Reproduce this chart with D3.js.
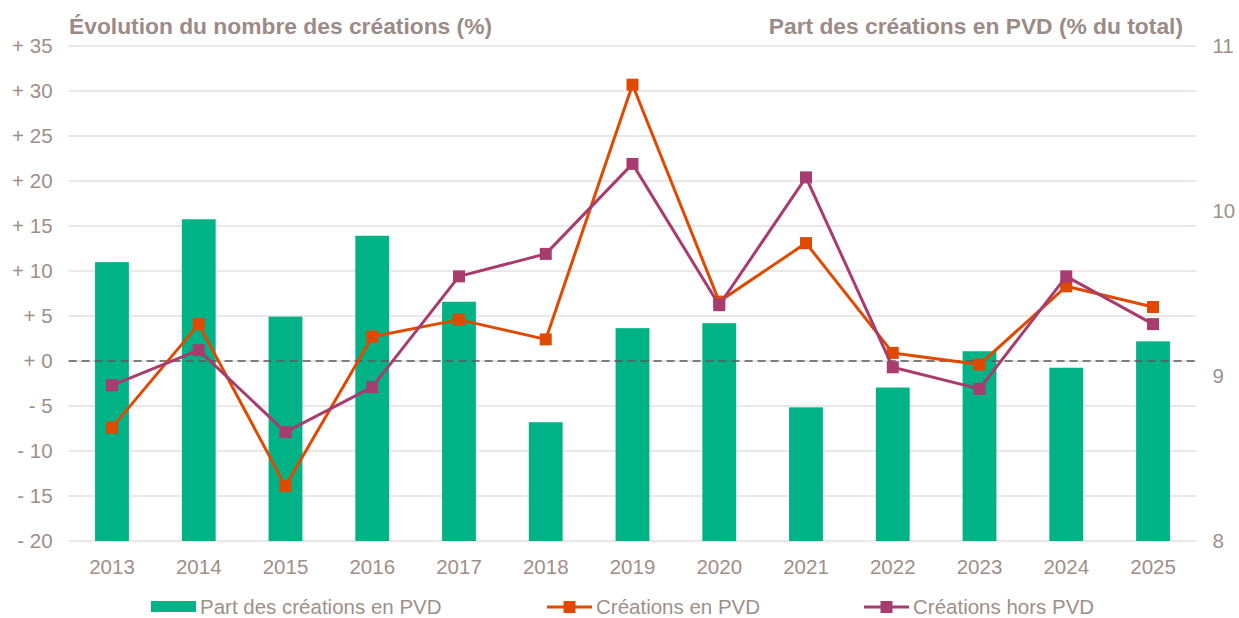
<!DOCTYPE html>
<html lang="fr">
<head>
<meta charset="utf-8">
<title>Créations en PVD</title>
<script src="https://d3js.org/d3.v7.min.js"></script>
<style>
  body { margin: 0; background: #fff; font-family: 'Liberation Sans', Arial, sans-serif; }
  svg { display: block; }
  text { fill: #9e8f89; }
  .tick text { font-size: 20.5px; }
  .title { font-size: 22.8px; font-weight: bold; fill: #9c8b85; }
  .legend text { font-size: 20.5px; }
  .grid line { stroke: #e6e1e0; stroke-width: 1.3; }
</style>
</head>
<body>
<svg width="1239" height="618"></svg>
<script>
const years = ['2013','2014','2015','2016','2017','2018','2019','2020','2021','2022','2023','2024','2025'];
// Part des créations en PVD (% du total) - axe de droite
const partPVD = [9.69, 9.95, 9.36, 9.85, 9.45, 8.72, 9.29, 9.32, 8.81, 8.93, 9.15, 9.05, 9.21];
// Évolution (%) - axe de gauche
const creationsPVD = [-7.4, 4.1, -13.9, 2.7, 4.6, 2.4, 30.7, 6.6, 13.1, 0.9, -0.4, 8.3, 6.0];
const creationsHorsPVD = [-2.7, 1.2, -7.9, -2.9, 9.4, 11.9, 21.9, 6.2, 20.4, -0.7, -3.1, 9.4, 4.1];
const leftTicks = [-20, -15, -10, -5, 0, 5, 10, 15, 20, 25, 30, 35];
const rightTicks = [8, 9, 10, 11];

const green = '#00b386', orange = '#e04a00', purple = '#a83c6e';

const svg = d3.select('svg');
const plotL = 68.6, plotR = 1196.4, plotT = 46, plotB = 541;

const x = d3.scaleBand().domain(years).range([plotL, plotR])
  .paddingInner(0.61).paddingOuter(0.305);
const yL = d3.scaleLinear().domain([-20, 35]).range([plotB, plotT]);
const yR = d3.scaleLinear().domain([8, 11]).range([plotB, plotT]);
const cx = d => x(d) + x.bandwidth() / 2;

// grid lines
svg.append('g').attr('class', 'grid')
  .selectAll('line').data(leftTicks).join('line')
  .attr('x1', plotL).attr('x2', plotR)
  .attr('y1', d => yL(d)).attr('y2', d => yL(d));

// left axis
const fmt = d => (d < 0 ? '- ' + Math.abs(d) : '+ ' + d);
svg.append('g')
  .attr('transform', `translate(${plotL - 16},0)`)
  .call(d3.axisLeft(yL).tickValues(leftTicks).tickFormat(fmt).tickSize(0).tickPadding(0))
  .call(g => g.select('.domain').remove());

// right axis
svg.append('g')
  .attr('transform', `translate(${plotR + 16},0)`)
  .call(d3.axisRight(yR).tickValues(rightTicks).tickFormat(d3.format('d')).tickSize(0).tickPadding(0))
  .call(g => g.select('.domain').remove());

// x axis
svg.append('g')
  .attr('transform', `translate(0,${plotB + 18})`)
  .call(d3.axisBottom(x).tickSize(0).tickPadding(0))
  .call(g => g.select('.domain').remove())
  .selectAll('text').attr('dy', '0.71em');

// bars
svg.append('g').selectAll('rect').data(partPVD).join('rect')
  .attr('x', (d, i) => x(years[i]))
  .attr('width', x.bandwidth())
  .attr('y', d => yR(d))
  .attr('height', d => yR(8) - yR(d))
  .attr('fill', green);

// zero line
svg.append('line')
  .attr('x1', plotL).attr('x2', plotR)
  .attr('y1', yL(0)).attr('y2', yL(0))
  .attr('stroke', '#595959').attr('stroke-width', 1.5)
  .attr('stroke-dasharray', '8 5');

// lines
const series = [
  { values: creationsPVD, color: orange },
  { values: creationsHorsPVD, color: purple }
];
const line = d3.line().x((d, i) => cx(years[i])).y(d => yL(d));
series.forEach(s => {
  svg.append('path').datum(s.values)
    .attr('d', line).attr('fill', 'none')
    .attr('stroke', s.color).attr('stroke-width', 3)
    .attr('stroke-linejoin', 'round');
  svg.append('g').selectAll('rect').data(s.values).join('rect')
    .attr('x', (d, i) => cx(years[i]) - 6)
    .attr('y', d => yL(d) - 6)
    .attr('width', 12).attr('height', 12)
    .attr('fill', s.color);
});

// titles
svg.append('text').attr('class', 'title')
  .attr('x', 69).attr('y', 34)
  .text('Évolution du nombre des créations (%)');
svg.append('text').attr('class', 'title')
  .attr('x', 1183).attr('y', 34).attr('text-anchor', 'end')
  .text('Part des créations en PVD (% du total)');

// legend
const lg = svg.append('g').attr('class', 'legend');
const ly = 607;
lg.append('rect').attr('x', 151).attr('y', ly - 6).attr('width', 45).attr('height', 11).attr('fill', green);
lg.append('text').attr('x', 200).attr('y', ly + 7).text('Part des créations en PVD');
[[547, orange, 'Créations en PVD'], [864, purple, 'Créations hors PVD']].forEach(([lx, c, t]) => {
  lg.append('line').attr('x1', lx).attr('x2', lx + 45).attr('y1', ly).attr('y2', ly)
    .attr('stroke', c).attr('stroke-width', 3);
  lg.append('rect').attr('x', lx + 16.5).attr('y', ly - 6).attr('width', 12).attr('height', 12).attr('fill', c);
  lg.append('text').attr('x', lx + 49).attr('y', ly + 7).text(t);
});
</script>
</body>
</html>
